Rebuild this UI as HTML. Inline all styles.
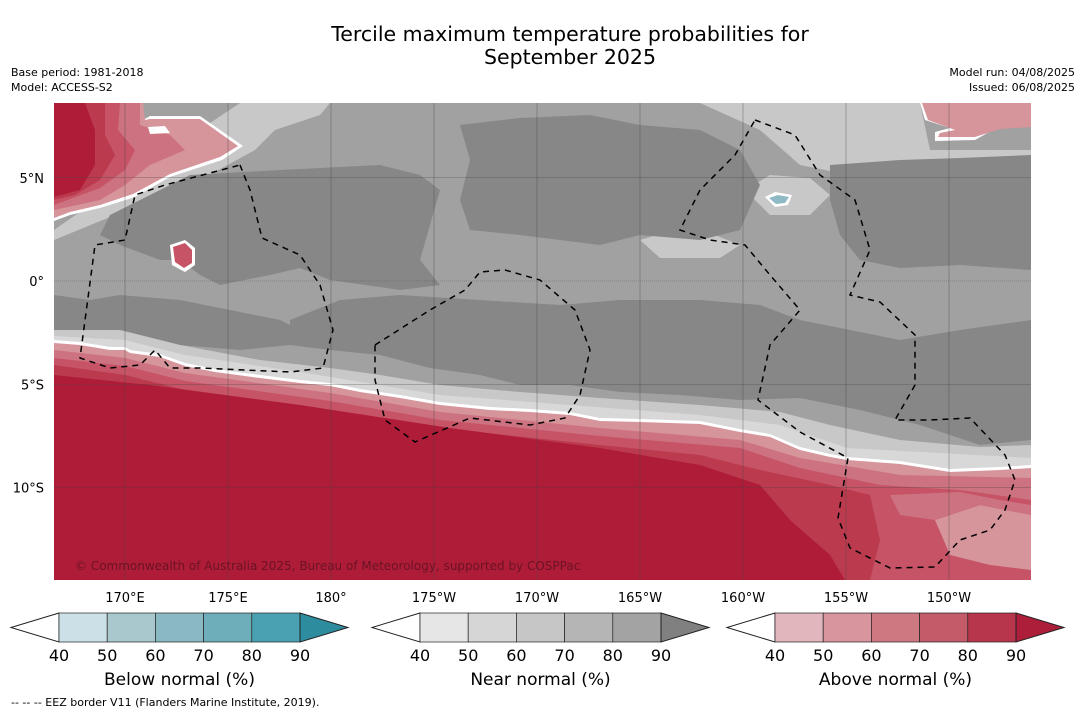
<!DOCTYPE html>
<html><head><meta charset="utf-8"><style>
body{margin:0;background:#fff;width:1085px;height:713px;overflow:hidden;font-family:"Liberation Sans","DejaVu Sans",sans-serif}
svg text{font-family:"DejaVu Sans","Liberation Sans",sans-serif}
</style></head><body>
<svg width="1085" height="713" viewBox="0 0 1085 713">
<rect width="1085" height="713" fill="#fff"/>
<text x="570" y="41" font-size="20.5" text-anchor="middle">Tercile maximum temperature probabilities for</text>
<text x="570" y="64" font-size="20.5" text-anchor="middle">September 2025</text>
<text x="11" y="76" font-size="11">Base period: 1981-2018</text>
<text x="11" y="91" font-size="11">Model: ACCESS-S2</text>
<text x="1075" y="76" font-size="11" text-anchor="end">Model run: 04/08/2025</text>
<text x="1075" y="91" font-size="11" text-anchor="end">Issued: 06/08/2025</text>
<defs><clipPath id="mc"><rect x="54" y="103" width="977" height="477"/></clipPath></defs>
<g clip-path="url(#mc)">
<rect x="54" y="103" width="977" height="477" fill="#a1a1a1"/>
<polygon fill="#c8c8c8" points="240,103 330,103 320,115 275,130 255,150 200,180 54,240 54,230 140,170"/>
<polygon fill="#c8c8c8" points="700,103 920,103 930,150 1031,150 1031,165 900,170 850,175 800,165 760,130"/>
<polygon fill="#c8c8c8" points="745,190 770,175 810,178 830,195 810,215 770,215"/>
<polygon fill="#c8c8c8" points="640,240 690,225 740,245 720,258 660,258"/>
<polygon fill="#878787" points="190,175 280,170 380,165 420,175 440,190 420,260 440,285 400,290 330,280 300,268 270,275 220,285 200,275 180,260 160,260 120,245 100,235 110,215 150,195"/>
<polygon fill="#878787" points="460,125 520,118 590,115 640,125 700,130 740,150 760,185 740,230 700,240 640,235 600,245 560,240 520,235 470,230 460,200 470,160"/>
<polygon fill="#878787" points="830,165 900,160 960,158 1031,155 1031,270 960,265 900,268 860,260 840,235 830,200"/>
<polygon fill="#878787" points="290,320 340,300 400,295 480,300 560,305 620,300 700,300 760,305 800,320 850,330 900,340 960,330 1031,320 1031,440 980,445 920,425 860,410 800,398 740,400 680,395 620,392 570,385 520,385 480,375 430,368 380,355 330,350 290,345"/>
<polygon fill="#878787" points="54,295 90,300 120,295 180,300 230,310 280,320 300,330 290,345 240,350 180,345 120,330 54,330"/>
<polygon fill="#c8c8c8" points="54,330 120,330 180,345 260,360 330,368 380,375 440,385 520,392 600,398 700,405 780,412 830,425 900,440 980,447 1031,445 1031,470 54,470"/>
<polygon fill="#d8d8d8" points="54,336 125,340 185,355 300,372 440,395 570,405 700,415 780,425 847,448 1031,458 1031,470 54,470"/>
<polygon fill="#fff" points="54,340 80,342 110,347 125,347 130,350 160,354 185,363 215,369 260,375 300,380 330,383 360,389 400,395 440,402 490,407 530,409 570,412 600,418 640,419 700,421 740,429 770,434 800,447 830,454 847,457 900,461 950,469 1000,467 1031,465 1031,580 54,580"/>
<polygon fill="#d6949b" points="54,343 80,345 110,350 125,350 130,353 160,357 185,366 215,372 260,378 300,383 330,386 360,392 400,398 440,405 490,410 530,412 570,415 600,421 640,422 700,424 740,432 770,437 800,450 830,457 847,460 900,464 950,472 1000,470 1031,468 1031,580 54,580"/>
<polygon fill="#cd7280" points="54,350 125,358 185,373 330,393 440,412 600,428 740,440 800,458 900,475 1031,478 1031,580 54,580"/>
<polygon fill="#c65366" points="54,358 125,366 185,381 330,401 440,420 600,436 740,448 800,468 880,485 960,490 1031,500 1031,580 54,580"/>
<polygon fill="#d6949b" points="935,520 980,505 1031,515 1031,570 990,565 950,555"/>
<polygon fill="#cd7280" points="890,495 960,492 1000,500 1031,505 1031,515 980,505 935,520 900,515"/>
<polygon fill="#bb3a4e" points="54,365 125,375 185,390 330,410 440,428 600,445 700,455 760,470 830,485 870,495 880,540 870,580 54,580"/>
<polygon fill="#af1c38" points="54,375 150,385 300,405 450,428 600,448 700,465 760,485 790,520 830,555 845,580 54,580"/>
<polygon fill="#fff" points="54,103 143,103 143,120 150,116 200,116 243,146 222,160 170,177 135,197 100,208 70,215 54,221"/>
<polygon fill="#d6949b" points="54,103 143,103 145,120 150,119 200,119 238,146 220,157 170,174 133,194 100,205 70,212 54,218"/>
<polygon fill="#cd7280" points="54,103 140,103 140,125 170,135 185,150 150,165 125,185 100,200 54,210"/>
<polygon fill="#c65366" points="54,103 120,103 118,130 135,150 125,170 100,188 54,205"/>
<polygon fill="#bb3a4e" points="54,103 105,103 105,135 115,155 100,180 75,195 54,200"/>
<polygon fill="#af1c38" points="54,103 85,103 95,130 95,165 80,190 54,197"/>
<polygon fill="#fff" points="148,127 165,126 170,133 150,134"/>
<polygon fill="#fff" points="920,103 1031,103 1031,124 1000,126 975,140 935,141 935,132 950,128 925,120"/>
<polygon fill="#d6949b" points="922,103 1031,103 1031,127 1000,129 975,137 938,137 940,133 955,130 928,120"/>
<polygon fill="#fff" points="170,245 185,240 195,248 195,265 185,272 172,265"/>
<polygon fill="#c65366" points="173,247 185,243 192,250 192,263 184,268 175,262"/>
<polygon fill="#fff" points="765,197 775,192 792,195 788,205 775,207"/>
<polygon fill="#8fbac5" points="769,198 778,195 789,197 785,203 776,204"/>
<g stroke="#444" stroke-width="0.6" stroke-opacity="0.6" id="grid"></g>
<g fill="none" stroke="#000" stroke-width="1.5" stroke-dasharray="6,5">
<polyline points="240,165 250,190 262,238 300,255 320,285 333,330 323,368 290,372 200,368 170,368 155,350 140,365 110,368 80,358 95,245 125,240 135,195 165,185 240,165"/>
<polyline points="375,345 430,310 465,290 480,272 505,270 540,280 575,310 590,350 580,395 565,418 530,425 470,418 415,442 385,420 375,380 375,345"/>
<polyline points="755,120 795,135 820,175 855,200 870,250 850,295 880,302 915,335 915,385 895,420 930,420 970,418 1005,455 1015,480 1005,510 990,530 960,540 935,567 890,568 850,548 838,518 848,458 800,432 758,400 770,345 800,310 770,275 745,245 710,240 680,230 700,190 735,155 755,120"/>
</g>
</g>
<text x="75" y="570" font-size="12" fill="#5a1020" fill-opacity="0.8">© Commonwealth of Australia 2025, Bureau of Meteorology, supported by COSPPac</text>
<g font-size="13" id="latl"></g>
<g font-size="13" text-anchor="middle" id="lonl"></g>
<g id="cbars"></g>
<text x="11" y="706" font-size="11">--  --  -- EEZ border V11 (Flanders Marine Institute, 2019).</text>
</svg>
<script>
const lonTicks=[170,175,180,-175,-170,-165,-160,-155,-150];
const lonLabels=["170°E","175°E","180°","175°W","170°W","165°W","160°W","155°W","150°W"];
const latTicks=[5,0,-5,-10];
const latLabels=["5°N","0°","5°S","10°S"];
const cbLevels=[40,50,60,70,80,90];
const belowColors=["#cbe1e7","#a9c8cd","#8ab9c4","#6eaebb","#4aa1b2","#2e8c9f"];
const nearColors=["#e6e6e6","#d6d6d6","#c6c6c6","#b5b5b5","#a3a3a3","#808080"];
const aboveColors=["#e1b7bd","#d8959d","#ce7881","#c35b69","#b8364c","#ad1e3a"];
const cbTitles=["Below normal (%)","Near normal (%)","Above normal (%)"];
const NS="http://www.w3.org/2000/svg";
const xLon=l=>{let d=l<0?l+360:l;return 125+(d-170)*20.6;};
const yLat=a=>281-a*20.65;
const grid=document.getElementById('grid');
lonTicks.forEach((l,i)=>{const ln=document.createElementNS(NS,'line');


const x=xLon(l);ln.setAttribute('x1',x);ln.setAttribute('x2',x);ln.setAttribute('y1',103);ln.setAttribute('y2',580);grid.appendChild(ln);
const t=document.createElementNS(NS,'text');


t.setAttribute('x',x);t.setAttribute('y',602);t.textContent=lonLabels[i];document.getElementById('lonl').appendChild(t);});
latTicks.forEach((a,i)=>{const ln=document.createElementNS(NS,'line');


const y=yLat(a);ln.setAttribute('x1',54);ln.setAttribute('x2',1031);ln.setAttribute('y1',y);ln.setAttribute('y2',y);if(a===0)ln.setAttribute('stroke-dasharray','1,1');grid.appendChild(ln);
const t=document.createElementNS(NS,'text');


t.setAttribute('x',44);t.setAttribute('y',y+5);t.setAttribute('text-anchor','end');t.textContent=latLabels[i];document.getElementById('latl').appendChild(t);});
const cb=document.getElementById('cbars');
const starts=[59,420,775];const cols=[belowColors,nearColors,aboveColors];
starts.forEach((x0,k)=>{const w=48.2,y0=613,h=29;const g=document.createElementNS(NS,'g');


const lt=document.createElementNS(NS,'polygon');


lt.setAttribute('points',`${x0},${y0} ${x0-48},${y0+h/2} ${x0},${y0+h}`);lt.setAttribute('fill','#fff');lt.setAttribute('stroke','#222');g.appendChild(lt);
cols[k].slice(0,5).forEach((c,i)=>{const r=document.createElementNS(NS,'rect');


r.setAttribute('x',x0+i*w);r.setAttribute('y',y0);r.setAttribute('width',w);r.setAttribute('height',h);r.setAttribute('fill',c);r.setAttribute('stroke','#222');r.setAttribute('stroke-width','0.7');g.appendChild(r);});
const xe=x0+5*w;const rt=document.createElementNS(NS,'polygon');


rt.setAttribute('points',`${xe},${y0} ${xe+48},${y0+h/2} ${xe},${y0+h}`);rt.setAttribute('fill',cols[k][5]);rt.setAttribute('stroke','#222');g.appendChild(rt);
cbLevels.forEach((v,i)=>{const t=document.createElementNS(NS,'text');


t.setAttribute('x',x0+i*w);t.setAttribute('y',y0+h+19);t.setAttribute('font-size','16');t.setAttribute('text-anchor','middle');t.textContent=v;g.appendChild(t);});
const tt=document.createElementNS(NS,'text');


tt.setAttribute('x',x0+2.5*w);tt.setAttribute('y',685);tt.setAttribute('font-size','17');tt.setAttribute('text-anchor','middle');tt.textContent=cbTitles[k];g.appendChild(tt);
cb.appendChild(g);});
</script>
</body></html>
